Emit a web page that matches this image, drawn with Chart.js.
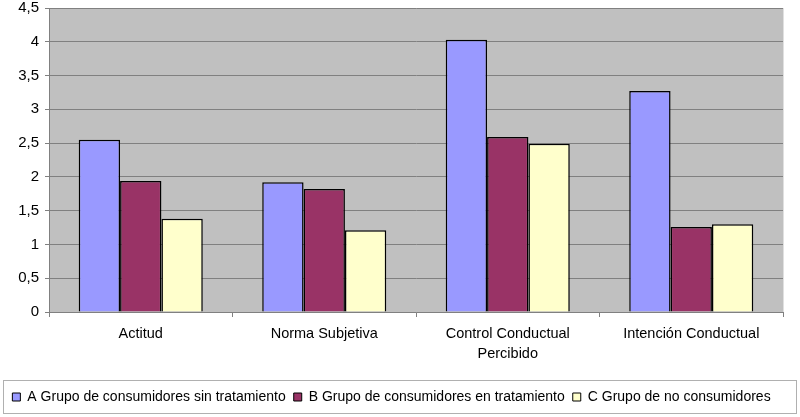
<!DOCTYPE html>
<html>
<head>
<meta charset="utf-8">
<script src="https://cdn.jsdelivr.net/npm/chart.js@4.4.1/dist/chart.umd.min.js"></script>
<style>
  html, body { margin: 0; padding: 0; background: #fff; }
  #wrap { width: 800px; height: 417px; }
</style>
</head>
<body>
<div id="wrap"><canvas id="chart"></canvas></div>
<script>
const categories = ["Actitud", "Norma Subjetiva", ["Control Conductual", "Percibido"], "Intención Conductual"];
const seriesNames = [
  "A Grupo de consumidores sin tratamiento",
  "B Grupo de consumidores en tratamiento",
  "C Grupo de no consumidores"
];
const valuesA = [2.55, 1.92, 4.03, 3.27];
const valuesB = [1.94, 1.82, 2.59, 1.26];
const valuesC = [1.38, 1.21, 2.49, 1.30];
const colors = ["#9999ff", "#993366", "#ffffcc"];
const yMax = 4.5;
const yStep = 0.5;

const FONT = "'Liberation Sans', Arial, sans-serif";

// plot background and frame around the legend
const framePlugin = {
  id: "frame",
  beforeDraw(chart) {
    const { ctx, chartArea: a } = chart;
    ctx.save();
    ctx.fillStyle = "#c0c0c0";
    ctx.fillRect(a.left, a.top, a.right - a.left, a.bottom - a.top);
    ctx.strokeStyle = "#e0e0e0";
    ctx.lineWidth = 1;
    ctx.beginPath();
    ctx.moveTo(a.right + 0.5, a.top);
    ctx.lineTo(a.right + 0.5, a.bottom);
    ctx.stroke();
    ctx.restore();
  },
  afterDraw(chart) {
    const boxes = chart.legend.legendHitBoxes;
    if (!boxes || !boxes.length) return;
    const cy = boxes[0].top + boxes[0].height / 2;
    const { ctx } = chart;
    ctx.save();
    ctx.strokeStyle = "#b0b0b0";
    ctx.lineWidth = 1;
    ctx.strokeRect(3.5, Math.round(cy - 17) + 0.5, 793, 33);
    ctx.restore();
  }
};

const datasets = [valuesA, valuesB, valuesC].map((vals, i) => ({
  label: seriesNames[i],
  data: vals,
  backgroundColor: colors[i],
  borderColor: "#000",
  borderWidth: 1.5,
  categoryPercentage: 0.676,
  barPercentage: 1.0
}));

new Chart(document.getElementById("chart"), {
  type: "bar",
  data: { labels: categories, datasets },
  plugins: [framePlugin],
  options: {
    responsive: true,
    maintainAspectRatio: false,
    animation: false,
    layout: { padding: { left: 0, right: 17, top: 8, bottom: 3 } },
    plugins: {
      tooltip: { enabled: false },
      legend: {
        position: "bottom",
        labels: {
          boxWidth: 8,
          boxHeight: 8,
          padding: 8,
          color: "#000",
          font: { family: FONT, size: 14 },
          generateLabels(chart) {
            return chart.data.datasets.map((ds, i) => ({
              text: ds.label,
              fillStyle: ds.backgroundColor,
              strokeStyle: "#000",
              lineWidth: 1,
              datasetIndex: i
            }));
          }
        }
      }
    },
    scales: {
      x: {
        grid: {
          offset: true,
          drawOnChartArea: false,
          drawTicks: true,
          tickLength: 5,
          color: "#808080"
        },
        border: { color: "#808080" },
        ticks: {
          color: "#000",
          padding: 7,
          font: { family: FONT, size: 14.5, lineHeight: 1.4 }
        },
        afterFit(scale) {
          const lg = scale.chart.legend;
          scale.height = 417 - 3 - (lg ? lg.height : 0) - 312;
        }
      },
      y: {
        min: 0,
        max: yMax,
        grid: { color: "#808080", tickLength: 4 },
        border: { color: "#808080" },
        ticks: {
          stepSize: yStep,
          color: "#000",
          padding: 6,
          font: { family: FONT, size: 15 },
          callback: v => String(v).replace(".", ",")
        },
        afterFit(scale) {
          scale.width = 49;
          scale.paddingTop = 0;
          scale.paddingBottom = 0;
        }
      }
    }
  }
});
</script>
</body>
</html>
